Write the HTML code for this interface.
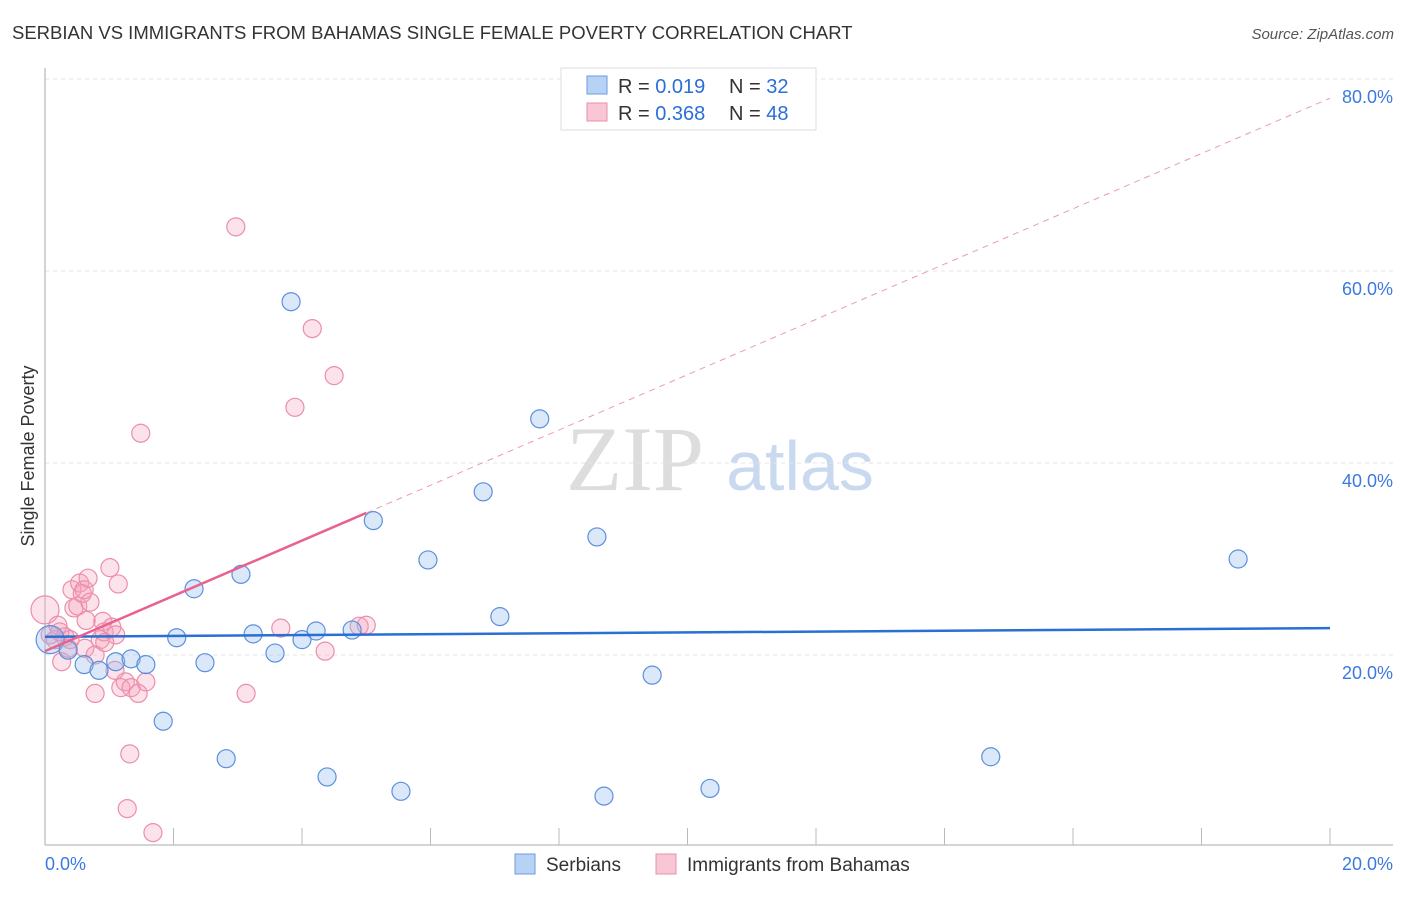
<!DOCTYPE html>
<html><head><meta charset="utf-8"><style>
body{margin:0;background:#fff;font-family:"Liberation Sans",sans-serif}
</style></head><body>
<svg id="c" width="1406" height="892" xmlns="http://www.w3.org/2000/svg" style="font-family:'Liberation Sans',sans-serif">
<text x="12" y="39" font-size="18.5" fill="#333">SERBIAN VS IMMIGRANTS FROM BAHAMAS SINGLE FEMALE POVERTY CORRELATION CHART</text>
<text x="1394" y="39" font-size="15" fill="#555" font-style="italic" text-anchor="end">Source: ZipAtlas.com</text>
<text x="34" y="456" font-size="18" fill="#333" text-anchor="middle" transform="rotate(-90 34 456)">Single Female Poverty</text>
<g><text x="635" y="490" font-size="92" fill="#ddd" font-family="Liberation Serif" text-anchor="middle">ZIP</text><text x="800" y="490" font-size="70" fill="#c9d9f0" text-anchor="middle">atlas</text></g>
<g id="grid"></g><g id="marks"></g>
<g>
<rect x="561" y="68" width="255" height="62" fill="#fff" stroke="#ddd"/>
<rect x="587" y="76" width="20" height="18" fill="#b8d2f5" stroke="#6a9be0"/>
<rect x="587" y="103" width="20" height="18" fill="#f8c6d5" stroke="#ea8fab"/>
<text x="618" y="93" font-size="20" fill="#333">R = <tspan fill="#2b6fd6">0.019</tspan></text><text x="729" y="93" font-size="20" fill="#333">N = <tspan fill="#2b6fd6">32</tspan></text>
<text x="618" y="120" font-size="20" fill="#333">R = <tspan fill="#2b6fd6">0.368</tspan></text><text x="729" y="120" font-size="20" fill="#333">N = <tspan fill="#2b6fd6">48</tspan></text>
</g>
<g>
<rect x="515" y="854" width="20" height="20" fill="#b8d2f5" stroke="#6a9be0"/>
<text x="546" y="871" font-size="19" fill="#333">Serbians</text>
<rect x="656" y="854" width="20" height="20" fill="#f8c6d5" stroke="#ea8fab"/>
<text x="687" y="871" font-size="19" fill="#333">Immigrants from Bahamas</text>
</g>
</svg>
<script>
const yTicks=[20,40,60,80];
const xTickLabels=["0.0%","20.0%"];
const blueX=[0.08,0.36,0.61,0.84,1.1,1.34,1.57,1.84,2.05,2.32,2.49,2.82,3.05,3.24,3.58,3.83,4.0,4.22,4.39,4.78,5.11,5.54,5.96,6.82,7.08,7.70,8.59,8.70,9.45,10.35,14.72,18.57];
const blueY=[21.6,20.5,19.0,18.4,19.3,19.6,19.0,13.1,21.8,26.9,19.2,9.2,28.4,22.2,20.2,56.8,21.6,22.5,7.3,22.6,34.0,5.8,29.9,37.0,24.0,44.6,32.3,5.3,17.9,6.1,9.4,30.0];
const pinkX=[0,0.08,0.16,0.2,0.26,0.31,0.36,0.42,0.45,0.51,0.54,0.58,0.61,0.64,0.67,0.7,0.78,0.86,0.9,0.92,1.01,1.04,1.1,1.14,1.18,1.25,1.34,1.45,1.49,1.57,1.32,1.28,1.68,2.97,3.13,3.67,3.89,4.16,4.36,4.5,4.89,5.0,0.23,0.62,0.78,0.39,0.93,1.09];
const pinkY=[24.7,22.1,21.6,23.1,19.3,21.9,20.7,26.8,24.9,25.1,27.5,26.4,26.8,23.6,28.0,25.5,16.0,21.6,23.5,22.4,29.1,22.9,22.1,27.4,16.6,17.2,16.6,16.0,43.1,17.2,9.7,4.0,1.5,64.6,16.0,22.8,45.8,54.0,20.4,49.1,23.0,23.1,22.4,20.7,20.0,21.6,21.3,18.4];
const blueTrend=[21.9,22.8];
const pinkTrend=[20.4,78.0];
const pinkSolidEnd=5.0;
const X=v=>45+v/20*1285, Y=v=>847-v*9.6;
const NS="http://www.w3.org/2000/svg";
function mk(p,t,a){const e=document.createElementNS(NS,t);for(const k in a)e.setAttribute(k,a[k]);p.appendChild(e);return e;}
const g=document.getElementById('grid'), m=document.getElementById('marks');
yTicks.forEach(t=>{
 const l=mk(g,'line',{x1:45,x2:1393,y1:Y(t),y2:Y(t),stroke:'#e4e4e4','stroke-dasharray':'4,4'});
 
 
 const tx=mk(g,'text',{x:1393,y:Y(t)+24,'font-size':18,fill:'#3a7ae0','text-anchor':'end'});tx.textContent=t.toFixed(1)+'%';
 
 
});
mk(g,'line',{x1:45,x2:45,y1:68,y2:845,stroke:'#aaa'});
mk(g,'line',{x1:45,x2:1393,y1:845,y2:845,stroke:'#aaa'});
for(let i=1;i<=10;i++){const l=mk(g,'line',{x1:X(i*2),x2:X(i*2),y1:828,y2:845,stroke:'#bbb'});
 
 }
const xl0=mk(g,'text',{x:45,y:870,'font-size':18,fill:'#3a7ae0'});xl0.textContent=xTickLabels[0];


const xl1=mk(g,'text',{x:1393,y:870,'font-size':18,fill:'#3a7ae0','text-anchor':'end'});xl1.textContent=xTickLabels[1];


pinkX.forEach((v,i)=>{const c=mk(m,'circle',{cx:X(v),cy:Y(pinkY[i]),r:i==0?14:9,fill:'rgba(244,160,186,0.3)',stroke:'#eb8eaa','stroke-width':1.2});
 
 });
blueX.forEach((v,i)=>{const c=mk(m,'circle',{cx:X(v),cy:Y(blueY[i]),r:i==0?14:9,fill:'rgba(150,190,240,0.35)',stroke:'#5b90dc','stroke-width':1.2});
 
 });
const bt=mk(m,'line',{x1:X(0),x2:X(20),y1:Y(blueTrend[0]),y2:Y(blueTrend[1]),stroke:'#2a6fd4','stroke-width':2.5});


const pe=pinkTrend[0]+(pinkTrend[1]-pinkTrend[0])*pinkSolidEnd/20;
const pt=mk(m,'line',{x1:X(0),x2:X(pinkSolidEnd),y1:Y(pinkTrend[0]),y2:Y(pe),stroke:'#e8628f','stroke-width':2.5});


const pd=mk(m,'line',{x1:X(pinkSolidEnd),x2:X(20),y1:Y(pe),y2:Y(pinkTrend[1]),stroke:'#eb9ab4','stroke-width':1,'stroke-dasharray':'6,5'});


</script>
</body></html>
